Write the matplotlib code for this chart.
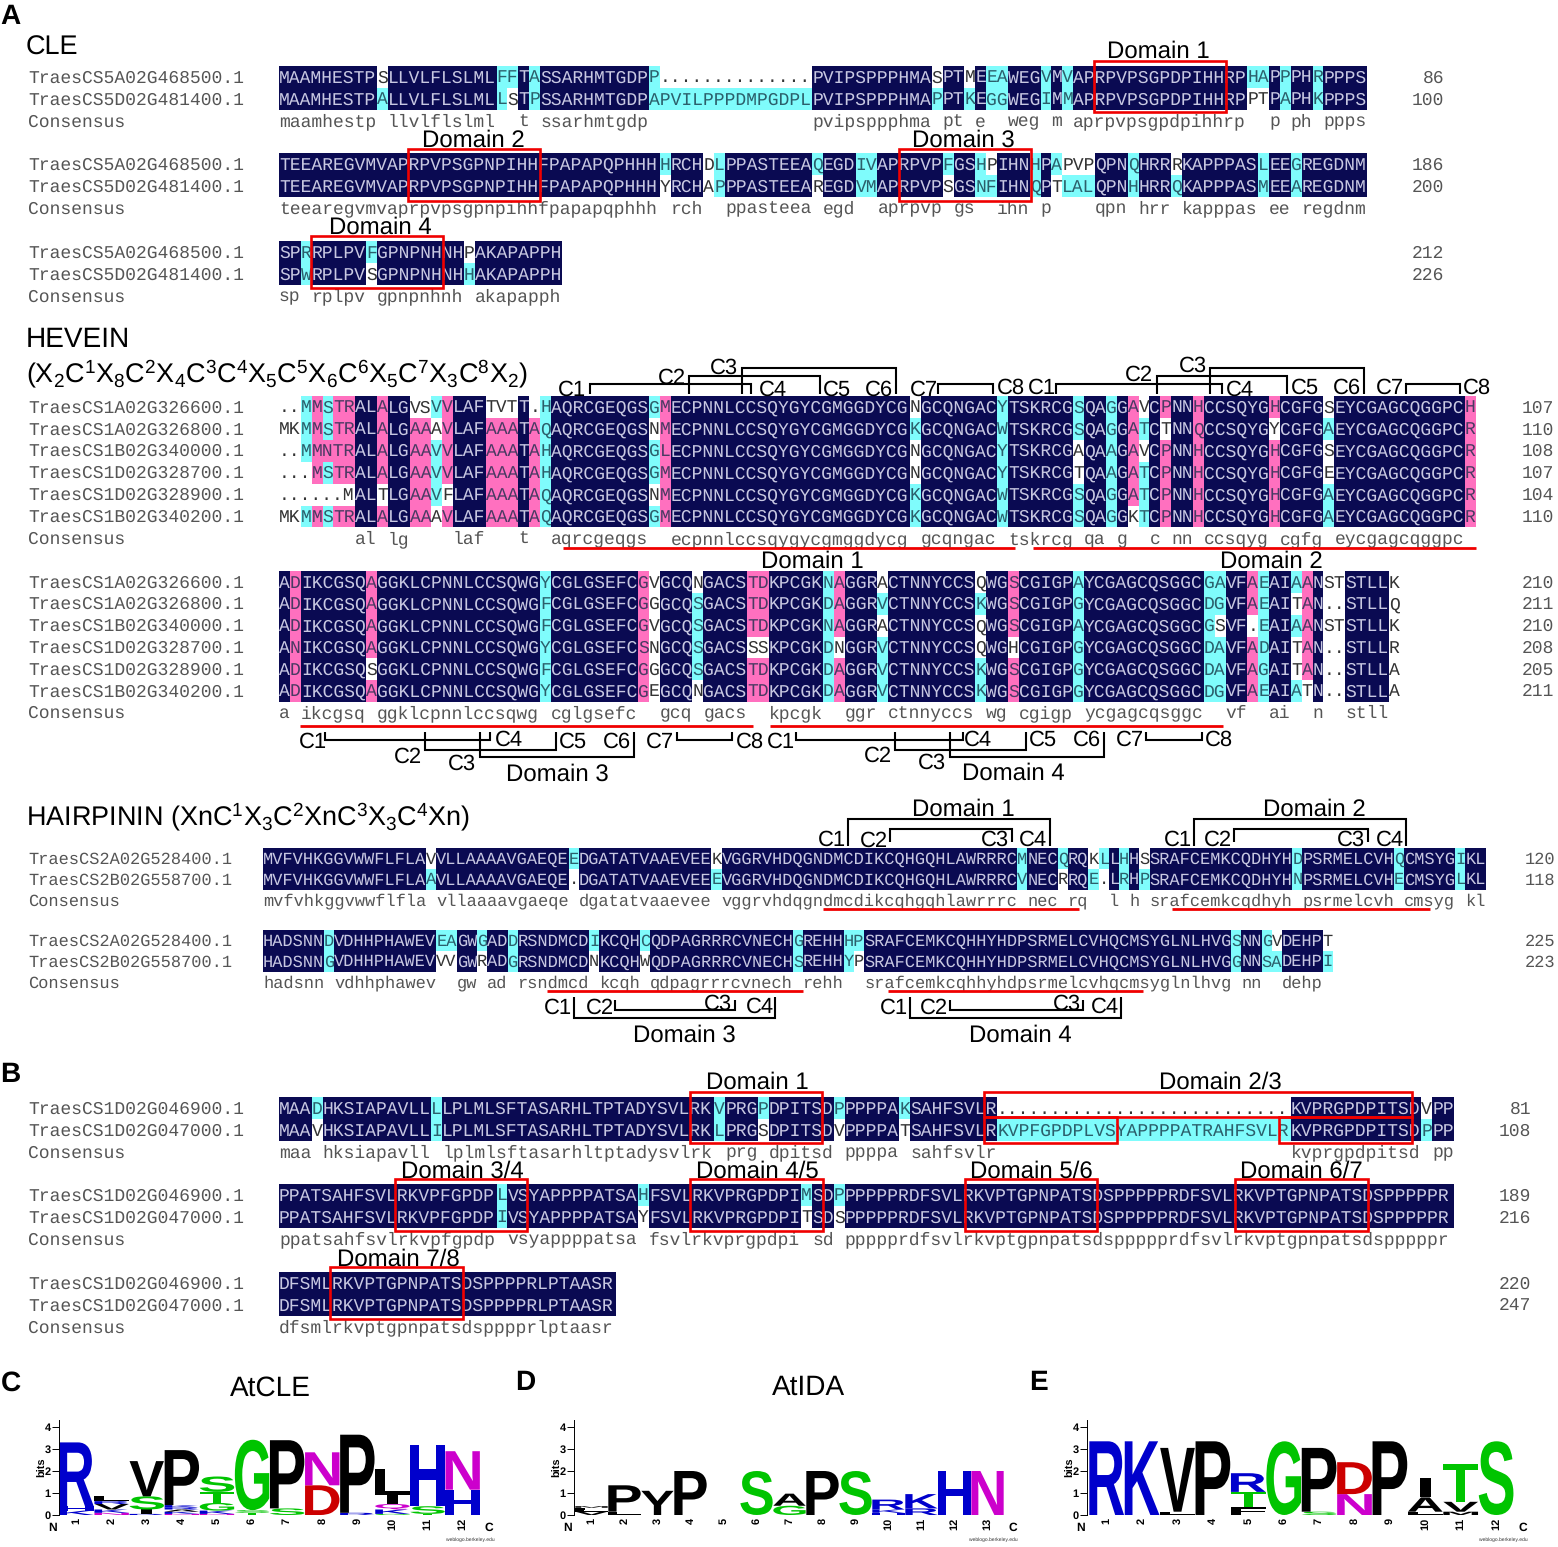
import matplotlib
matplotlib.use("Agg")
import matplotlib.pyplot as plt
import numpy as np
from matplotlib.patches import Rectangle, PathPatch
from matplotlib.textpath import TextPath
from matplotlib.font_manager import FontProperties
from matplotlib.transforms import Affine2D

plt.rcParams['font.family'] = ['Liberation Sans', 'DejaVu Sans']
plt.rcParams['mathtext.default'] = 'regular'
plt.rcParams['text.hinting'] = 'no_hinting'
plt.rcParams['text.hinting_factor'] = 1

# ---------------------------------------------------------------- data
CLE_NAMES = ["TraesCS5A02G468500.1", "TraesCS5D02G481400.1"]
CLE_1 = ["MAAMHESTPSLLVLFLSLMLFFTASSARHMTGDPP..............PVIPSPPPHMASPTMEEAWEGVMVAPRPVPSGPDPIHHRPHAPPPHRPPPS",
         "MAAMHESTPALLVLFLSLMLLSTPSSARHMTGDPAPVILPPPDMPGDPLPVIPSPPPHMAPPTKEGGWEGIMMAPRPVPSGPDPIHHRPPTPAPHKPPPS"]
CLE_1_NUM = [86, 100]
CLE_1_SHADE = {10: 'wc', 22: 'cw', 61: 'wc', 64: 'wc', 90: 'cw', 91: 'cw'}
CLE_2 = ["TEEAREGVMVAPRPVPSGPNPIHHFPAPAPQPHHHHRCHDLPPASTEEAQEGDIVAPRPVPFGSHPIHNHPAPVPQPNQHRRRKAPPPASLEEGREGDNM",
         "TEEAREGVMVAPRPVPSGPNPIHHFPAPAPQPHHHYRCHAPPPASTEEAREGDVMAPRPVPSGSNFIHNQPTLALQPNHHRRQKAPPPASMEEAREGDNM"]
CLE_2_NUM = [186, 200]
CLE_2_SHADE = {36: 'cw', 40: 'ww', 50: 'cw', 62: 'cw', 66: 'wc', 72: 'cw', 73: 'wc', 74: 'wc', 75: 'wc', 83: 'wc'}
CLE_3 = ["SPRRPLPVFGPNPNHNHPAKAPAPPH",
         "SPWRPLPVSGPNPNHNHHAKAPAPPH"]
CLE_3_NUM = [212, 226]
CLE_3_SHADE = {9: 'cw', 18: 'wc'}

HEV_NAMES = ["TraesCS1A02G326600.1", "TraesCS1A02G326800.1", "TraesCS1B02G340000.1",
             "TraesCS1D02G328700.1", "TraesCS1D02G328900.1", "TraesCS1B02G340200.1"]
HEV_1 = ["..MMSTRALALGVSVVLAFTVTT.HAQRCGEQGSGMECPNNLCCSQYGYCGMGGDYCGNGCQNGACYTSKRCGSQAGGAVCPNNHCCSQYGHCGFGSEYCGAGCQGGPCH",
         "MKMMSTRALALGAAAVLAFAAATAQAQRCGEQGSNMECPNNLCCSQYGYCGMGGDYCGKGCQNGACWTSKRCGSQAGGATCTNNQCCSQYGYCGFGAEYCGAGCQGGPCR",
         "..MMNTRALALGAAVVLAFAAATAHAQRCGEQGSGLECPNNLCCSQYGYCGMGGDYCGNGCQNGACYTSKRCGAQAAGAVCPNNHCCSQYGHCGFGSEYCGAGCQGGPCR",
         "...MSTRALALGAAVVLAFAAATAHAQRCGEQGSGMECPNNLCCSQYGYCGMGGDYCGNGCQNGACYTSKRCGTQAAGATCPNNHCCSQYGHCGFGEEYCGAGCQGGPCR",
         "......MALTLGAAVFLAFAAATAQAQRCGEQGSNMECPNNLCCSQYGYCGMGGDYCGKGCQNGACWTSKRCGSQAGGATCPNNHCCSQYGHCGFGAEYCGAGCQGGPCR",
         "MKMMSTRALALGAAAVLAFAAATAQAQRCGEQGSGMECPNNLCCSQYGYCGMGGDYCGKGCQNGACWTSKRCGSQAGGKTCPNNHCCSQYGHCGFGAEYCGAGCQGGPCR"]
HEV_1_NUM = [107, 110, 108, 107, 104, 110]
HEV_1_SHADE = {1: 'wwwwww', 2: 'wwwwww', 3: 'cccwwc', 4: 'ppppwp', 5: 'ccpcwc', 6: 'ppppwp', 7: 'ppppwp',
               10: 'ppppwp', 13: 'wppppp', 14: 'wppppp', 15: 'cwcccw', 16: 'ppppwp', 20: 'wppppp',
               21: 'wppppp', 22: 'wppppp', 24: 'wppppp', 25: 'cccccc', 35: 'cwccwc', 36: 'pppppp',
               59: 'wcwwcc', 67: 'cccccc', 74: 'ccwwcc', 77: 'cccccc', 79: 'pppppw', 80: 'wcwccc',
               82: 'pwpppp', 85: 'pppppp', 92: 'pwpppp', 97: 'wcwwcc', 110: 'pppppp'}
HEV_2 = ["ADIKCGSQAGGKLCPNNLCCSQWGYCGLGSEFCGVGCQNGACSTDKPCGKNAGGRACTNNYCCSQWGSCGIGPAYCGAGCQSGGCGAVFAEAIAANSTSTLLK",
         "ADIKCGSQAGGKLCPNNLCCSQWGFCGLGSEFCGGGCQSGACSTDKPCGKDAGGRVCTNNYCCSKWGSCGIGPGYCGAGCQSGGCDGVFAEAITAN..STLLQ",
         "ADIKCGSQAGGKLCPNNLCCSQWGFCGLGSEFCGVGCQSGACSTDKPCGKNAGGRACTNNYCCSQWGSCGIGPAYCGAGCQSGGCGSVF.EAIAANSTSTLLK",
         "ANIKCGSQAGGKLCPNNLCCSQWGYCGLGSEFCSNGCQSGACSSSKPCGKDNGGRVCTNNYCCSQWGHCGIGPGYCGAGCQSGGCDAVFADAITAN..STLLR",
         "ADIKCGSQSGGKLCPNNLCCSQWGFCGLGSEFCGGGCQSGACSTDKPCGKDAGGRVCTNNYCCSKWGSCGIGPGYCGAGCQSGGCDAVFAGAITAN..STLLA",
         "ADIKCGSQAGGKLCPNNLCCSQWGYCGLGSEFCGEGCQNGACSTDKPCGKDAGGRVCTNNYCCSKWGSCGIGPGYCGAGCQSGGCDGVFAEAIATN..STLLA"]
HEV_2_NUM = [210, 211, 210, 208, 205, 211]
HEV_2_SHADE = {2: 'pppppp', 9: 'ppppwp', 25: 'cccccc', 34: 'pppppp', 35: 'wwwwww', 39: 'wccccw',
               44: 'pppwpp', 45: 'pppwpp', 51: 'cccccc', 52: 'pppwpp', 56: 'wcwccc', 65: 'wcwwcc',
               68: 'pppwpp', 74: 'cccccc', 86: 'cccccc', 87: 'ccwccc', 90: 'ppwppp', 91: 'cccccc',
               94: 'cwcwwc', 95: 'pppppw', 97: 'wwwwww', 98: 'wwwwww', 103: 'wwwwww'}

HAIR_NAMES = ["TraesCS2A02G528400.1", "TraesCS2B02G558700.1"]
HAIR_1 = ["MVFVHKGGVWWFLFLAVVLLAAAAVGAEQEEDGATATVAAEVEEKVGGRVHDQGNDMCDIKCQHGQHLAWRRRCMNECQRQKLLHHSSRAFCEMKCQDHYHDPSRMELCVHQCMSYGIKL",
          "MVFVHKGGVWWFLFLAAVLLAAAAVGAEQE.DGATATVAAEVEEEVGGRVHDQGNDMCDIKCQHGQHLAWRRRCVNECRRQE.LRHPSRAFCEMKCQDHYHNPSRMELCVHECMSYGLKL"]
HAIR_1_NUM = [120, 118]
HAIR_1_SHADE = {17: 'wc', 45: 'wc', 79: 'cw', 82: 'wc', 87: 'wc'}
HAIR_2 = ["HADSNNDVDHHPHAWEVEAGWGADDRSNDMCDIKCQHCQDPAGRRRCVNECHGREHHHPSRAFCEMKCQHHYHDPSRMELCVHQCMSYGLNLHVGSNNGVDEHPT",
          "HADSNNGVDHHPHAWEVVVGWRADGRSNDMCDNKCQHWQDPAGRRRCVNECHSREHHYPSRAFCEMKCQHHYHDPSRMELCVHQCMSYGLNLHVGGNNSADEHPI"]
HAIR_2_NUM = [225, 223]
HAIR_2_SHADE = {18: 'cw', 19: 'cw', 22: 'cw', 33: 'cw', 38: 'cw', 59: 'cw', 100: 'wc', 105: 'wc'}

B_NAMES = ["TraesCS1D02G046900.1", "TraesCS1D02G047000.1"]
B_1 = ["MAADHKSIAPAVLLLLPLMLSFTASARHLTPTADYSVLRKVPRGPDPITSDPPPPPAKSAHFSVLR...........................KVPRGPDPITSDVPP",
       "MAAVHKSIAPAVLLILPLMLSFTASARHLTPTADYSVLRKLPRGSDPITSDVPPPPATSAHFSVLRKVPFGPDPLVSYAPPPPATRAHFSVLRKVPRGPDPITSDPPP"]
B_1_NUM = [81, 108]
B_1_SHADE = {4: 'cw', 45: 'cw', 52: 'cw', 58: 'cw', 106: 'wc'}
B_2 = ["PPATSAHFSVLRKVPFGPDPLVSYAPPPPATSAHFSVLRKVPRGPDPIMSDPPPPPPRDFSVLRKVPTGPNPATSDSPPPPPRDFSVLRKVPTGPNPATSDSPPPPPR",
       "PPATSAHFSVLRKVPFGPDPIVSYAPPPPATSAYFSVLRKVPRGPDPITSDSPPPPPRDFSVLRKVPTGPNPATSDSPPPPPRDFSVLRKVPTGPNPATSDSPPPPPR"]
B_2_NUM = [189, 216]
B_2_SHADE = {34: 'cw', 49: 'cw', 52: 'cw'}
B_3 = ["DFSMLRKVPTGPNPATSDSPPPPRLPTAASR",
       "DFSMLRKVPTGPNPATSDSPPPPRLPTAASR"]
B_3_NUM = [220, 247]
B_3_SHADE = {}

# sequence logos: stacks of (letter, bits), bottom to top
LOGO_C = [[('K', .2), ('H', .2), ('R', 2.9)],
          [('N', .1), ('K', .15), ('V', .25), ('R', .13), ('L', .22)],
          [('R', .05), ('I', .2), ('S', .6), ('V', 1.6)],
          [('N', .05), ('K', .1), ('A', .1), ('R', .1), ('K', .1), ('P', 2.5)],
          [('N', .05), ('K', .15), ('G', .35), ('T', .5), ('S', .7)],
          [('T', .1), ('S', .12), ('G', 3.2)],
          [('S', .3), ('P', 3.1)],
          [('D', 1.35), ('N', 1.5)],
          [('R', .1), ('P', 3.55)],
          [('G', .05), ('K', .2), ('Q', .25), ('I', .4), ('L', 1.2)],
          [('T', .05), ('S', .35), ('H', 2.8)],
          [('H', 1.15), ('N', 1.75)]]
LOGO_D = [[('V', .15), ('L', .1), ('F', .08), ('M', .07)],
          [('L', .15), ('P', 1.2)],
          [('Y', 1.1)],
          [('P', 2.0)],
          [],
          [('S', 2.0)],
          [('G', .42), ('A', .55)],
          [('P', 2.0)],
          [('S', 2.0)],
          [('H', .1), ('K', .15), ('R', .45)],
          [('R', .3), ('K', .65)],
          [('H', 2.0)],
          [('N', 2.0)]]
LOGO_E = [[('R', 3.35)],
          [('K', 3.35)],
          [('L', .15), ('V', 2.9)],
          [('P', 3.35)],
          [('F', .35), ('T', .7), ('R', .85)],
          [('G', 3.35)],
          [('S', .15), ('P', 2.9)],
          [('N', .95), ('D', 1.45)],
          [('P', 3.35)],
          [('L', .15), ('A', .65), ('I', .9)],
          [('M', .15), ('V', .45), ('T', 1.7)],
          [('S', 3.35)]]

# ---------------------------------------------------------------- canvas
W, H = 1558, 1547
fig = plt.figure(figsize=(W / 100, H / 100), dpi=100, facecolor='white')
ax = fig.add_axes([0, 0, 1, 1])
ax.set_xlim(0, W)
ax.set_ylim(H, 0)
ax.axis('off')

NAVY, CYAN, PINK = '#0a0a52', '#7ffcfc', '#ff70bf'
FILL = {'n': NAVY, 'c': CYAN, 'p': PINK}
INK = {'n': '#c8c8e2', 'c': '#2b5f6b', 'p': '#4a3a63', 'w': '#333333'}
GREY = '#555555'
MONO = 'Liberation Mono'
BASE = 5.5


def shade_of(rows, over, c):
    if c + 1 in over:
        return over[c + 1]
    col = [r[c] for r in rows]
    if len(set(col)) == 1 and col[0] != '.':
        return 'n' * len(rows)
    return ''.join('w' if ch == '.' else 'c' for ch in col)


def alignment(names, rows, nums, over, x0, y0, w, pitch, numx):
    fs = w / 0.6 * 0.72
    ncol = len(rows[0])
    shade = [shade_of(rows, over, c) for c in range(ncol)]
    for i, row in enumerate(rows):
        y = y0 + i * pitch
        ax.text(28, y + BASE, names[i], family=MONO, fontsize=fs, color=GREY)
        ax.text(numx, y + BASE, str(nums[i]), family=MONO, fontsize=fs, color=GREY, ha='right')
        c = 0
        while c < ncol:
            k = shade[c][i]
            e = c
            while e + 1 < ncol and shade[e + 1][i] == k:
                e += 1
            if k in FILL:
                ax.add_patch(Rectangle((x0 + c * w, y - pitch / 2), (e - c + 1) * w, pitch,
                                       fc=FILL[k], ec='none', zorder=1))
            ax.text(x0 + c * w, y + BASE, row[c:e + 1], family=MONO, fontsize=fs,
                    color=INK[k], zorder=2)
            c = e + 1
    y = y0 + len(rows) * pitch
    ax.text(28, y + BASE, 'Consensus', family=MONO, fontsize=fs, color=GREY)
    cons = ''.join(rows[0][c].lower() if shade[c] == 'n' * len(rows) else ' ' for c in range(ncol))
    c = 0
    while c < ncol:
        if cons[c] == ' ':
            c += 1
            continue
        e = c
        while e + 1 < ncol and cons[e + 1] != ' ':
            e += 1
        ax.text(x0 + c * w, y + BASE, cons[c:e + 1], family=MONO, fontsize=fs, color=GREY, zorder=2)
        c = e + 1


WA, WH = 10.88, 10.19
alignment(CLE_NAMES, CLE_1, CLE_1_NUM, CLE_1_SHADE, 279, 77, WA, 22, 1444)
alignment(CLE_NAMES, CLE_2, CLE_2_NUM, CLE_2_SHADE, 279, 164, WA, 22, 1444)
alignment(CLE_NAMES, CLE_3, CLE_3_NUM, CLE_3_SHADE, 279, 252, WA, 22, 1444)
alignment(HEV_NAMES, HEV_1, HEV_1_NUM, HEV_1_SHADE, 279, 407, WA, 21.9, 1554)
alignment(HEV_NAMES, HEV_2, HEV_2_NUM, HEV_2_SHADE, 279, 582, WA, 21.8, 1554)
alignment(HAIR_NAMES, HAIR_1, HAIR_1_NUM, HAIR_1_SHADE, 263, 858, WH, 21, 1555)
alignment(HAIR_NAMES, HAIR_2, HAIR_2_NUM, HAIR_2_SHADE, 263, 940, WH, 21, 1555)
alignment(B_NAMES, B_1, B_1_NUM, B_1_SHADE, 279, 1108, WA, 22, 1531)
alignment(B_NAMES, B_2, B_2_NUM, B_2_SHADE, 279, 1195, WA, 22, 1531)
alignment(B_NAMES, B_3, B_3_NUM, B_3_SHADE, 279, 1283, WA, 22, 1531)


# ---------------------------------------------------------------- annotations
def label(x, y, s, fs=17.6, **kw):
    ax.text(x, y + 2, s, fontsize=fs, ha=kw.pop('ha', 'center'), va='center', color='black', zorder=6, **kw)


def redbox(x0, y0, x1, y1):
    ax.add_patch(Rectangle((x0, y0), x1 - x0, y1 - y0, fc='none', ec='#f00000', lw=1.9, zorder=5))


def redline(x0, x1, y):
    ax.plot([x0, x1], [y, y], color='#f00000', lw=2.0, solid_capstyle='butt', zorder=5)


def bracket(x0, x1, y, y_end):
    ax.plot([x0, x0, x1, x1], [y_end, y, y, y_end], color='black', lw=1.5, zorder=5,
            solid_joinstyle='miter', solid_capstyle='butt')


for s, x, y in [('A', 10, 15), ('B', 10, 1073), ('C', 11, 1381), ('D', 525, 1381), ('E', 1038, 1381)]:
    label(x, y, s, fs=20, fontweight='bold')

label(26, 46, 'CLE', fs=19.6, ha='left')
label(26, 338, 'HEVEIN', fs=20, ha='left')
label(26, 372, r'(X$_2$C$^1$X$_8$C$^2$X$_4$C$^3$C$^4$X$_5$C$^5$X$_6$C$^6$X$_5$C$^7$X$_3$C$^8$X$_2$)',
      fs=19.2, ha='left')
label(26, 815, r'HAIRPININ (XnC$^1$X$_3$C$^2$XnC$^3$X$_3$C$^4$Xn)', fs=19.6, ha='left')
label(270, 1386, 'AtCLE', fs=20)
label(809, 1386, 'AtIDA', fs=20)

# CLE domains
for s, cx, cy, box in [('Domain 1', 1158, 50, (1094, 61, 1226, 112)),
                       ('Domain 2', 473, 139, (408, 149, 540, 201)),
                       ('Domain 3', 963, 139, (899, 149, 1031, 201)),
                       ('Domain 4', 380, 226, (311, 236, 443, 288))]:
    label(cx, cy, s)
    redbox(*box)

# HEVEIN cysteine pairs
for dx1, dx2, dx3, dx4, dx5, dx6, dx7, dx8 in [(590, 751, 689, 820, 742, 896, 938, 993),
                                               (1056, 1222, 1157, 1287, 1210, 1364, 1406, 1460)]:
    bracket(dx1, dx2, 384, 394)
    bracket(dx3, dx4, 376, 394)
    bracket(dx5, dx6, 368, 394)
    bracket(dx7, dx8, 384, 394)
for s, x, y in [('C1', 572, 388), ('C2', 672, 376), ('C3', 724, 366), ('C4', 773, 388), ('C5', 837, 388),
                ('C6', 879, 388), ('C7', 924, 388), ('C8', 1011, 386), ('C1', 1042, 386), ('C2', 1139, 373),
                ('C3', 1193, 364), ('C4', 1240, 388), ('C5', 1305, 386), ('C6', 1347, 386), ('C7', 1390, 386),
                ('C8', 1477, 386)]:
    label(x, y, s, fs=16)
redline(563, 1015, 548)
redline(1033, 1476, 548)
label(812, 560, 'Domain 1')
label(1271, 560, 'Domain 2')
redline(300, 753, 726)
redline(770, 1223, 726)
for x1, x2, x3, x4, x5, x6, x7, x8 in [(325, 490, 425, 556, 480, 634, 677, 732),
                                       (796, 963, 895, 1026, 950, 1104, 1146, 1202)]:
    bracket(x1, x2, 740, 732)
    bracket(x3, x4, 750, 732)
    bracket(x5, x6, 757, 732)
    bracket(x7, x8, 740, 732)
for s, x, y in [('C1', 313, 740), ('C2', 408, 755), ('C3', 462, 762), ('C4', 509, 738), ('C5', 573, 740),
                ('C6', 617, 740), ('C7', 660, 740), ('C8', 750, 740), ('C1', 781, 740), ('C2', 878, 754),
                ('C3', 932, 761), ('C4', 978, 738), ('C5', 1043, 738), ('C6', 1087, 738), ('C7', 1130, 738),
                ('C8', 1219, 738)]:
    label(x, y, s, fs=16)
label(557, 773, 'Domain 3')
label(1013, 772, 'Domain 4')

# HAIRPININ
bracket(848, 1050, 819, 846)
bracket(890, 1012, 829, 842)
bracket(1194, 1406, 819, 846)
bracket(1234, 1368, 829, 842)
bracket(574, 775, 1018, 997)
bracket(615, 735, 1010, 1000)
bracket(910, 1121, 1018, 997)
bracket(950, 1083, 1010, 1000)
for s, x, y in [('C1', 832, 838), ('C2', 874, 839), ('C3', 995, 838), ('C4', 1033, 838), ('C1', 1178, 838),
                ('C2', 1218, 838), ('C3', 1351, 838), ('C4', 1390, 838), ('C1', 558, 1006), ('C2', 600, 1006),
                ('C3', 718, 1002), ('C4', 760, 1005), ('C1', 894, 1006), ('C2', 934, 1006), ('C3', 1067, 1002),
                ('C4', 1105, 1005)]:
    label(x, y, s, fs=16)
for s, x, y in [('Domain 1', 963, 808), ('Domain 2', 1314, 808), ('Domain 3', 684, 1034), ('Domain 4', 1020, 1034)]:
    label(x, y, s)
redline(823, 1079, 909)
redline(1172, 1430, 909)
redline(547, 803, 991)
redline(888, 1143, 991)

# panel B domains
for s, cx, cy in [('Domain 1', 757, 1081), ('Domain 2/3', 1220, 1081), ('Domain 3/4', 462, 1170),
                  ('Domain 4/5', 757, 1170), ('Domain 5/6', 1031, 1170), ('Domain 6/7', 1301, 1170),
                  ('Domain 7/8', 398, 1258)]:
    label(cx, cy, s)
for box in [(690, 1092, 822, 1143), (984, 1092, 1412, 1117), (984, 1117, 1117, 1143), (1279, 1117, 1412, 1143),
            (395, 1179, 527, 1231), (690, 1179, 823, 1231), (965, 1179, 1097, 1231), (1235, 1179, 1368, 1231),
            (330, 1267, 463, 1319)]:
    redbox(*box)

# ---------------------------------------------------------------- logos
LOGO_FP = FontProperties(family='Liberation Sans', weight='bold')
GREEN, BLUE, RED, MAG = '#00c400', '#0000cc', '#cc0000', '#cc00cc'
LETTER_COLOR = {**{k: GREEN for k in 'GSTC'}, **{k: BLUE for k in 'KRH'},
                **{k: RED for k in 'DE'}, **{k: MAG for k in 'NQ'}}


def logo(stacks, axis_x, col_x, col_w):
    n = len(stacks)
    top = 4.3
    px_bit = 22.0
    y0 = 1515
    left, right = axis_x, col_x + n * col_w
    a = fig.add_axes([left / W, 1 - y0 / H, (right - left) / W, top * px_bit / H], facecolor='none')
    a.set_xlim((axis_x - col_x) / col_w, n)
    a.set_ylim(0, top)
    for sp in ('top', 'right', 'bottom'):
        a.spines[sp].set_visible(False)
    a.spines['left'].set_linewidth(0.7)
    a.set_yticks(range(5))
    a.set_yticklabels([str(v) for v in range(5)], fontsize=8, fontweight='bold')
    a.tick_params(axis='y', length=5, width=0.7, pad=1)
    a.set_xticks(np.arange(n) + .5)
    a.set_xticklabels([str(i + 1) for i in range(n)], rotation=90, fontsize=8, fontweight='bold')
    a.tick_params(axis='x', length=0, pad=2)
    for i, stack in enumerate(stacks):
        base = 0.0
        for letter, h in stack:
            tp = TextPath((0, 0), letter, size=1, prop=LOGO_FP)
            ext = tp.get_extents()
            gw = 0.3 if letter == 'I' else 0.98
            tr = (Affine2D().translate(-ext.x0, -ext.y0).scale(gw / ext.width, h / ext.height)
                  .translate(i + (1 - gw) / 2, base))
            a.add_patch(PathPatch(tp, transform=tr + a.transData, fc=LETTER_COLOR.get(letter, 'black'),
                                  ec='none', lw=0))
            base += h
    ax.text(axis_x - 17, 1467, 'bits', rotation=90, fontsize=8, fontweight='bold', ha='center', va='center')
    ax.text(axis_x - 6, 1528, 'N', fontsize=8.5, fontweight='bold', ha='center', va='center')
    ax.text(right + 9, 1528, 'C', fontsize=8.5, fontweight='bold', ha='center', va='center')
    ax.text(right + 14, 1540, 'weblogo.berkeley.edu', fontsize=3.8, color='#333333', ha='right', va='center')


logo(LOGO_C, 59, 59, 35.1)
logo(LOGO_D, 574, 575, 33.0)
logo(LOGO_E, 1087, 1089, 35.4)

fig.savefig('out.png', dpi=100)
